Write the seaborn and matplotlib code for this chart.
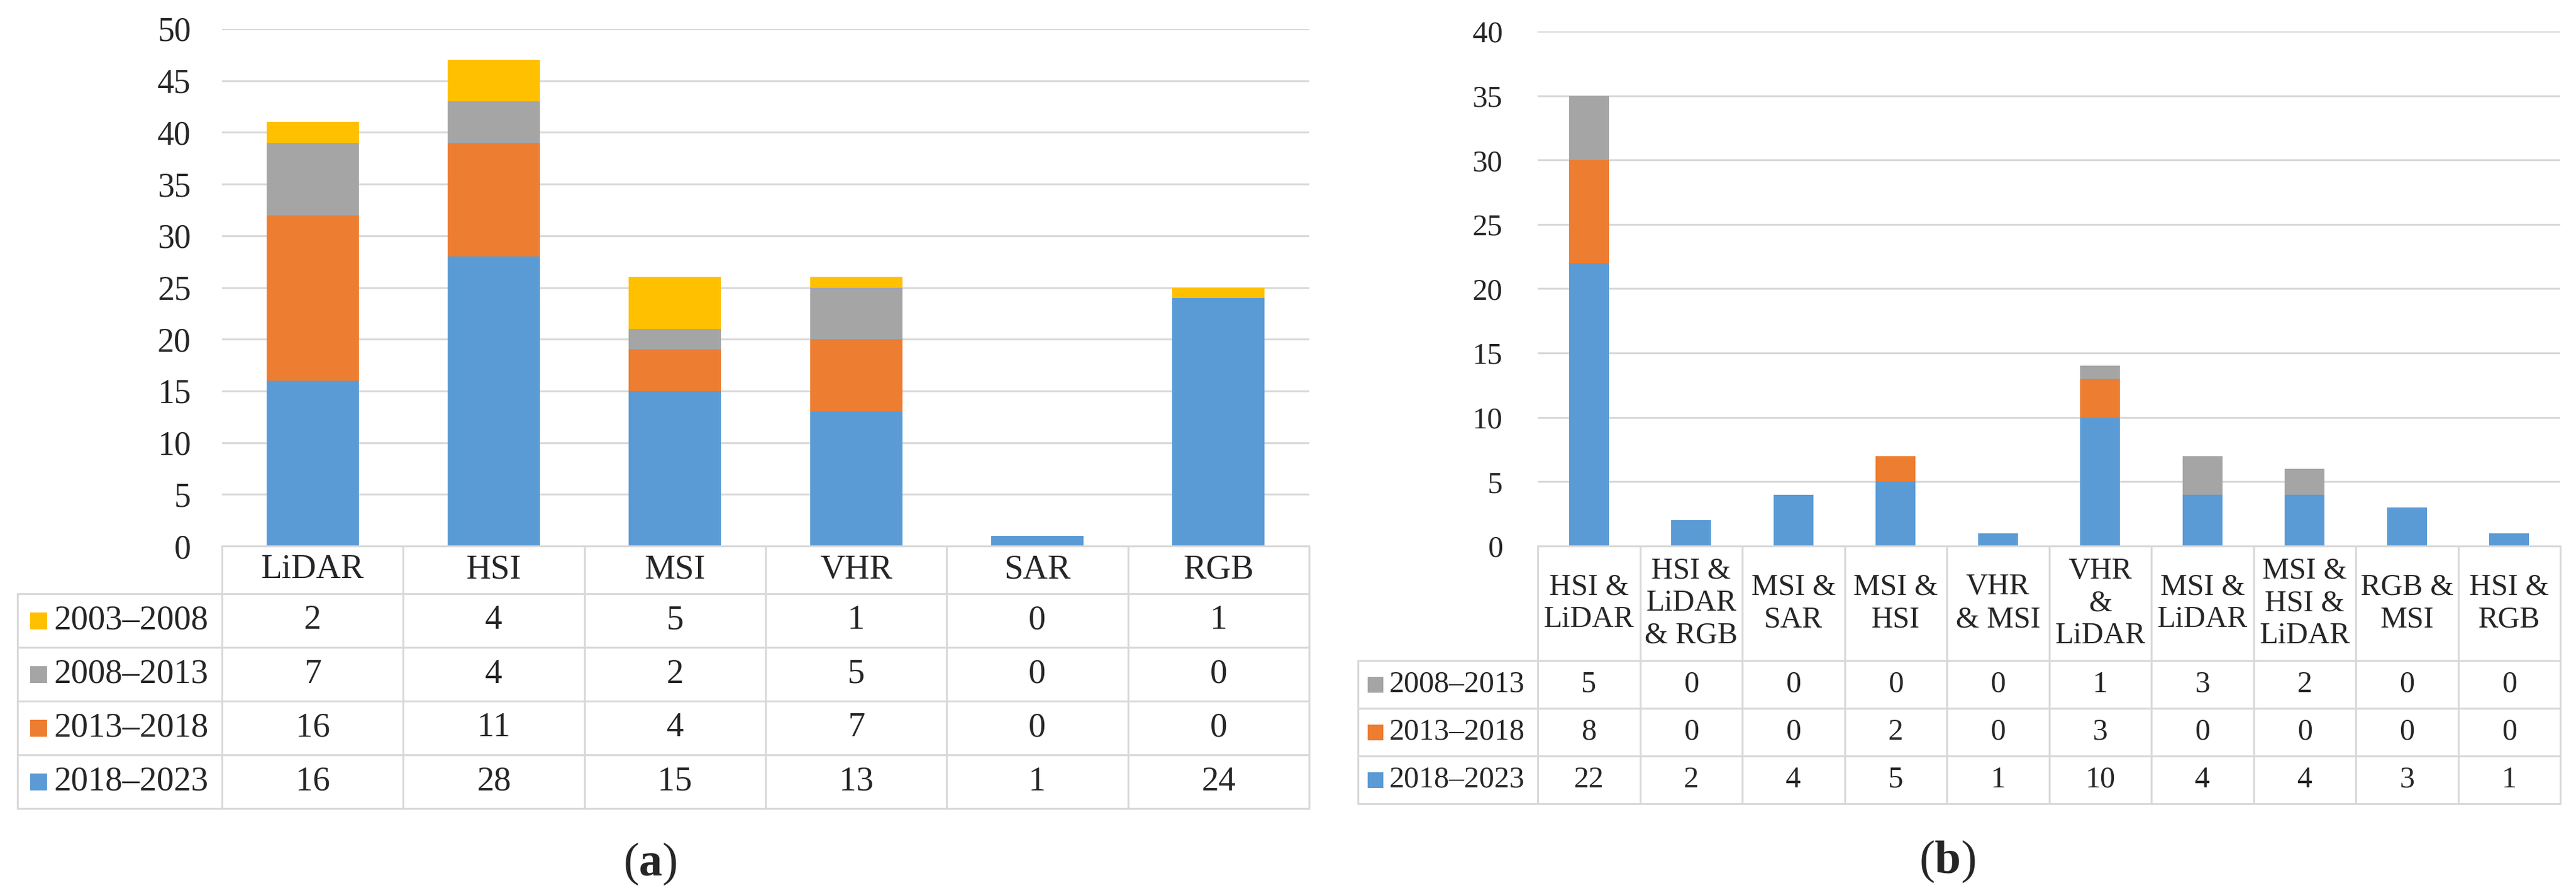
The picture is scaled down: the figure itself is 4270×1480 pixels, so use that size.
import numpy as np
import matplotlib
matplotlib.use("Agg")
import matplotlib.pyplot as plt
import seaborn as sns
from matplotlib.lines import Line2D
from matplotlib.patches import Rectangle
from matplotlib.transforms import blended_transform_factory

# ---------------- data ----------------
a_cats = ["LiDAR", "HSI", "MSI", "VHR", "SAR", "RGB"]
a_periods = ["2003–2008", "2008–2013", "2013–2018", "2018–2023"]
a_2003_2008 = [2, 4, 5, 1, 0, 1]
a_2008_2013 = [7, 4, 2, 5, 0, 0]
a_2013_2018 = [16, 11, 4, 7, 0, 0]
a_2018_2023 = [16, 28, 15, 13, 1, 24]

b_cats = ["HSI&LiDAR", "HSI&LiDAR&RGB", "MSI&SAR", "MSI&HSI", "VHR&MSI",
          "VHR&LiDAR", "MSI&LiDAR", "MSI&HSI&LiDAR", "RGB&MSI", "HSI&RGB"]
b_labels = ["HSI &\nLiDAR", "HSI &\nLiDAR\n& RGB", "MSI &\nSAR", "MSI &\nHSI",
            "VHR\n& MSI", "VHR\n&\nLiDAR", "MSI &\nLiDAR", "MSI &\nHSI &\nLiDAR",
            "RGB &\nMSI", "HSI &\nRGB"]
b_periods = ["2008–2013", "2013–2018", "2018–2023"]
b_2008_2013 = [5, 0, 0, 0, 0, 1, 3, 2, 0, 0]
b_2013_2018 = [8, 0, 0, 2, 0, 3, 0, 0, 0, 0]
b_2018_2023 = [22, 2, 4, 5, 1, 10, 4, 4, 3, 1]

colors = {"2003–2008": "#FFC000", "2008–2013": "#A5A5A5",
          "2013–2018": "#ED7D31", "2018–2023": "#5B9BD5"}

# ---------------- style ----------------
sns.set_style("white")
plt.rcParams["font.family"] = ["Liberation Serif", "DejaVu Serif"]
plt.rcParams["mathtext.fontset"] = "custom"
plt.rcParams["mathtext.rm"] = "Liberation Serif"
plt.rcParams["mathtext.bf"] = "Liberation Serif:bold"

W, H = 4270, 1480
fig = plt.figure(figsize=(W / 100, H / 100), dpi=100)
GRID = "#D9D9D9"
LW = 2.3


def fx(x):
    return x / W


def fy(y):
    return 1 - y / H


def make_axes(x0, x1, ytop, ybot):
    return fig.add_axes([fx(x0), fy(ybot), fx(x1) - fx(x0), (ybot - ytop) / H])


def stacked(ax, cats, series_bottom_to_top, names, width):
    cum = np.cumsum(np.array(series_bottom_to_top, dtype=float), axis=0)
    for k in range(len(series_bottom_to_top) - 1, -1, -1):
        sns.barplot(x=cats, y=cum[k], order=cats, color=colors[names[k]],
                    saturation=1, width=width, errorbar=None, ax=ax,
                    linewidth=0)


def style_axes(ax, n, ymax, step, fs, pad):
    ax.set_xlim(-0.5, n - 0.5)
    ax.set_ylim(0, ymax)
    ax.set_yticks(range(0, ymax + 1, step))
    ax.grid(axis="y", color=GRID, lw=LW)
    ax.grid(axis="x", visible=False)
    ax.set_axisbelow(True)
    for s in ax.spines.values():
        s.set_visible(False)
    ax.set_xlabel("")
    ax.set_ylabel("")
    ax.tick_params(axis="x", length=0, labelbottom=False)
    ax.tick_params(axis="y", length=0, pad=pad, labelsize=fs)


def draw_table(ax, labels, row_names, rows, axis_bot, head_bot, row_h,
               left, key_x, key_sz, text_x, fs):
    n = len(labels)
    tr = blended_transform_factory(ax.transData, fig.transFigure)
    x_right = ax.get_position().x1
    bottom = head_bot + row_h * len(rows)
    # vertical lines of category columns
    for i in range(n + 1):
        fig.add_artist(Line2D([i - 0.5, i - 0.5], [fy(axis_bot), fy(bottom)],
                              transform=tr, color=GRID, lw=LW))
    # left border
    fig.add_artist(Line2D([fx(left), fx(left)], [fy(head_bot), fy(bottom)],
                          transform=fig.transFigure, color=GRID, lw=LW))
    # horizontal lines
    fig.add_artist(Line2D([ax.get_position().x0, x_right], [fy(axis_bot), fy(axis_bot)],
                          transform=fig.transFigure, color=GRID, lw=LW))
    for r in range(len(rows) + 1):
        y = head_bot + r * row_h
        fig.add_artist(Line2D([fx(left), x_right], [fy(y), fy(y)],
                              transform=fig.transFigure, color=GRID, lw=LW))
    # header labels
    yc = (axis_bot + head_bot) / 2
    for i, lab in enumerate(labels):
        fig.text(i, fy(yc), lab, transform=tr, ha="center", va="center",
                 fontsize=fs, linespacing=1.2)
    # rows
    for r, (name, vals) in enumerate(zip(row_names, rows)):
        yc = head_bot + (r + 0.5) * row_h
        fig.add_artist(Rectangle((fx(key_x), fy(yc + key_sz / 2)), key_sz / W,
                                 key_sz / H, transform=fig.transFigure,
                                 color=colors[name], lw=0))
        fig.text(fx(text_x), fy(yc), name, ha="left", va="center", fontsize=fs)
        for i, v in enumerate(vals):
            fig.text(i, fy(yc), str(v), transform=tr, ha="center", va="center",
                     fontsize=fs)


# ---------------- panel (a) ----------------
ax1 = make_axes(368, 2170, 48, 905)
stacked(ax1, a_cats, [a_2018_2023, a_2013_2018, a_2008_2013, a_2003_2008],
        ["2018–2023", "2013–2018", "2008–2013", "2003–2008"], 0.51)
style_axes(ax1, len(a_cats), 50, 5, 40, 37)
draw_table(ax1, a_cats, a_periods,
           [a_2003_2008, a_2008_2013, a_2013_2018, a_2018_2023],
           axis_bot=905, head_bot=984, row_h=89, left=29, key_x=50,
           key_sz=28, text_x=90, fs=41)

# ---------------- panel (b) ----------------
ax2 = make_axes(2549, 4244, 52, 905)
stacked(ax2, b_cats, [b_2018_2023, b_2013_2018, b_2008_2013],
        ["2018–2023", "2013–2018", "2008–2013"], 0.39)
style_axes(ax2, len(b_cats), 40, 5, 36, 42)
draw_table(ax2, b_labels, b_periods, [b_2008_2013, b_2013_2018, b_2018_2023],
           axis_bot=905, head_bot=1095, row_h=79, left=2251, key_x=2267,
           key_sz=26, text_x=2303, fs=36)

# ---------------- captions ----------------
fig.text(fx(1078), fy(1432), r"($\mathbf{a}$)", ha="center", va="center", fontsize=56)
fig.text(fx(3228), fy(1428), r"($\mathbf{b}$)", ha="center", va="center", fontsize=56)

fig.savefig("out.png", dpi=100, facecolor="white")
